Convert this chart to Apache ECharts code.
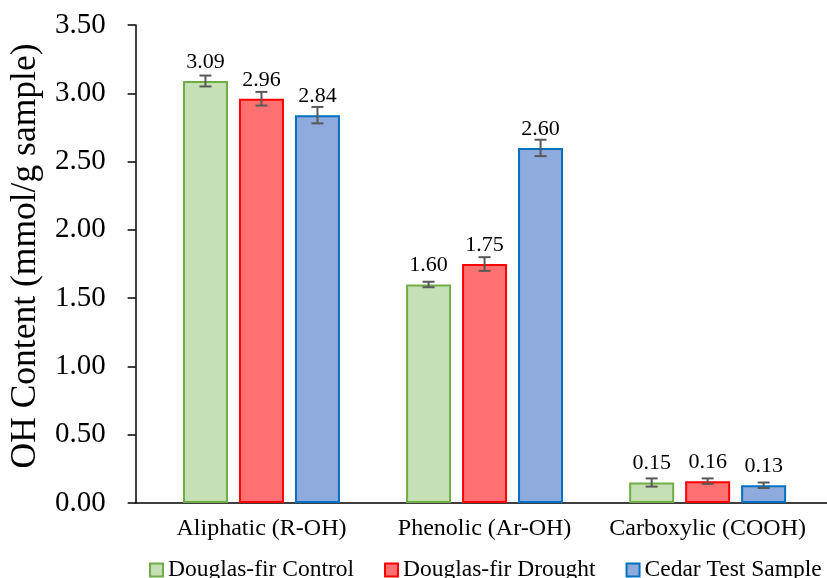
<!DOCTYPE html>
<html>
<head>
<meta charset="utf-8">
<script src="https://cdn.jsdelivr.net/npm/echarts@6/dist/echarts.min.js"></script>
<style>
  html, body { margin: 0; padding: 0; background: #fff; }
  #chart { width: 827px; height: 578px; }
</style>
</head>
<body>
<div id="chart"></div>
<script>
// Hydroxyl group content by functional type, mean ± error
const categories = ['Aliphatic (R-OH)', 'Phenolic (Ar-OH)', 'Carboxylic (COOH)'];
const categoryPos = [1, 2, 3];
const seriesNames = ['Douglas-fir Control', 'Douglas-fir Drought', 'Cedar Test Sample'];

const controlVals = [3.09, 1.60, 0.15];
const droughtVals = [2.96, 1.75, 0.16];
const cedarVals   = [2.84, 2.60, 0.13];

const controlErr = [0.04, 0.02, 0.03];
const droughtErr = [0.05, 0.05, 0.02];
const cedarErr   = [0.06, 0.06, 0.02];

const yTickLabels = ['0.00', '0.50', '1.00', '1.50', '2.00', '2.50', '3.00', '3.50'];

const FONT = 'Liberation Serif';
const BAR_W = 45;
const BAR_GAP = 11;

const fills   = ['#C5E0B4', '#FF7171', '#8FAADC'];
const borders = ['#70AD47', '#FF0000', '#0070C0'];

const valueSets = [controlVals, droughtVals, cedarVals];
const errSets = [controlErr, droughtErr, cedarErr];

const barSeries = valueSets.map((vals, i) => ({
  name: seriesNames[i],
  type: 'bar',
  barWidth: BAR_W,
  barGap: (BAR_GAP / BAR_W * 100).toFixed(1) + '%',
  data: vals.map((v, j) => [categoryPos[j], v]),
  itemStyle: { color: fills[i], borderColor: borders[i], borderWidth: 2 },
  label: {
    show: true,
    position: 'top',
    distance: 8,
    fontFamily: FONT,
    fontSize: 22,
    color: '#000',
    formatter: p => p.value[1].toFixed(2)
  },
  z: 2
}));

// error bars drawn on top of each bar, shifted by the bar's slot in the group
const errorSeries = errSets.map((errs, i) => ({
  type: 'custom',
  name: seriesNames[i] + ' error',
  data: errs.map((e, j) => [categoryPos[j], valueSets[i][j] - e, valueSets[i][j] + e]),
  encode: { x: 0, y: [1, 2] },
  z: 5,
  silent: true,
  renderItem: (params, api) => {
    const shift = (i - 1) * (BAR_W + BAR_GAP);
    const lo = api.coord([api.value(0), api.value(1)]);
    const hi = api.coord([api.value(0), api.value(2)]);
    const x = lo[0] + shift;
    const cap = 6;
    const style = { stroke: '#595959', lineWidth: 2, fill: null };
    return {
      type: 'group',
      children: [
        { type: 'line', shape: { x1: x, y1: lo[1], x2: x, y2: hi[1] }, style },
        { type: 'line', shape: { x1: x - cap, y1: lo[1], x2: x + cap, y2: lo[1] }, style },
        { type: 'line', shape: { x1: x - cap, y1: hi[1], x2: x + cap, y2: hi[1] }, style }
      ]
    };
  }
}));

const chart = echarts.init(document.getElementById('chart'), null, { renderer: 'canvas' });
chart.setOption({
  backgroundColor: '#fff',
  animation: false,
  textStyle: { fontFamily: FONT },
  grid: { left: 134.5, right: 0, top: 25, bottom: 75, containLabel: false },
  legend: {
    data: seriesNames,
    left: 149,
    top: 558,
    padding: 0,
    icon: 'rect',
    itemWidth: 13,
    itemHeight: 13,
    itemGap: 30,
    textStyle: { fontFamily: FONT, fontSize: 23.5, color: '#000' }
  },
  xAxis: {
    type: 'value',
    min: 0.436,
    max: 3.535,
    axisLine: { show: true, lineStyle: { color: '#000', width: 1.5 } },
    axisTick: { show: false },
    splitLine: { show: false },
    axisLabel: {
      customValues: categoryPos,
      margin: 14,
      fontFamily: FONT,
      fontSize: 24,
      color: '#000',
      formatter: v => categories[Math.round(v) - 1]
    }
  },
  yAxis: {
    type: 'value',
    min: 0,
    max: 3.5,
    interval: 0.5,
    name: 'OH Content (mmol/g sample)',
    nameLocation: 'middle',
    nameGap: 86,
    nameTextStyle: { fontFamily: FONT, fontSize: 35.5, color: '#000', padding: [0, 0, 0, 16] },
    axisLine: { show: true, lineStyle: { color: '#000', width: 1.5 } },
    axisTick: { show: true, inside: false, length: 8, lineStyle: { color: '#000', width: 1.5 } },
    splitLine: { show: false },
    axisLabel: {
      margin: 30,
      fontFamily: FONT,
      fontSize: 29,
      color: '#000',
      formatter: v => yTickLabels[Math.round(v / 0.5)]
    }
  },
  series: [...barSeries, ...errorSeries]
});
</script>
</body>
</html>
